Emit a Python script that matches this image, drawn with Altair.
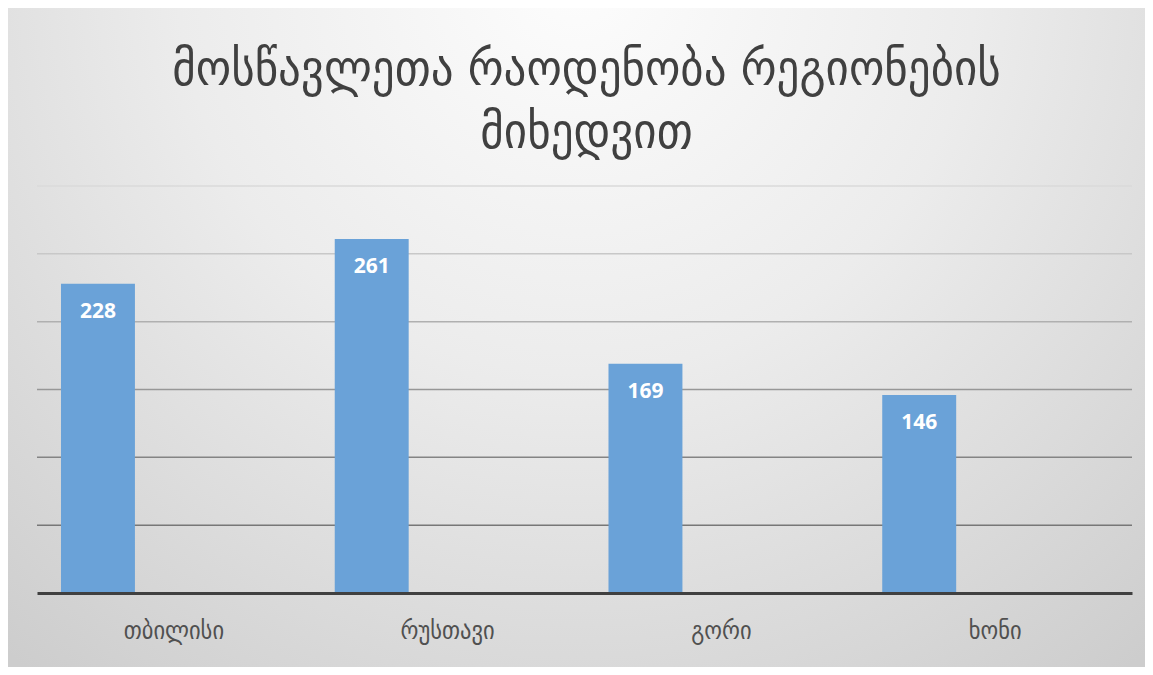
import altair as alt
import pandas as pd

# ---- data ----
regions = ["თბილისი", "რუსთავი", "გორი", "ხონი"]
students = [228, 261, 169, 146]
series_slots = ["მოსწავლეები", "_"]        # second (empty) cluster slot
grid_values = [50, 100, 150, 200, 250, 300]
grid_colors = ["#777777", "#848484", "#979797", "#b0b0b0", "#c8c8c8", "#dadada"]
title_lines = ["მოსწავლეთა რაოდენობა რეგიონების", "მიხედვით"]

W, H = 1095, 407
PAD = {"left": 29, "top": 178, "right": 13, "bottom": 74}

df = pd.DataFrame({"region": regions, "value": students,
                   "series": [series_slots[0]] * len(regions)})
grid_df = pd.DataFrame({"g": grid_values, "c": grid_colors})
title_df = pd.DataFrame({"t": [title_lines]})

x_enc = alt.X("region:N", sort=regions,
              scale=alt.Scale(paddingInner=0, paddingOuter=0),
              axis=alt.Axis(title=None, ticks=False, labelAngle=0,
                            labelFont="DejaVu Sans Condensed", labelFontSize=25,
                            labelColor="#505050", labelPadding=25,
                            domainColor="#404040", domainWidth=3, grid=False,
                            zindex=2))
xo_enc = alt.XOffset("series:N",
                     scale=alt.Scale(domain=series_slots, paddingInner=0.513,
                                     paddingOuter=0.158))
y_scale = alt.Scale(domain=[0, 300], nice=False)

bg = alt.Chart(pd.DataFrame({"a": [0]})).mark_rect(
    fill=alt.Gradient(gradient="radial",
                      stops=[alt.GradientStop(offset=0, color="#fdfdfd"),
                             alt.GradientStop(offset=0.45, color="#ececec"),
                             alt.GradientStop(offset=1, color="#cdcdcd")],
                      x1=0.5, y1=0.18, x2=0.5, y2=0.18, r1=0, r2=0.78)
).encode(x=alt.value(-PAD["left"]), x2=alt.value(W + PAD["right"]),
         y=alt.value(-PAD["top"]), y2=alt.value(H + PAD["bottom"]))

title = alt.Chart(title_df).mark_text(
    font="DejaVu Sans Condensed", fontSize=50, color="#404040",
    align="center", baseline="alphabetic", lineHeight=63
).encode(x=alt.value(W / 2 + 2), y=alt.value(-101), text="t")

grid = alt.Chart(grid_df).mark_rule(strokeWidth=1.5).encode(
    y=alt.Y("g:Q", scale=y_scale, axis=None),
    color=alt.Color("c:N", scale=None, legend=None),
)

bars = alt.Chart(df).mark_bar(color="#6aa2d8", opacity=1).encode(
    x=x_enc, xOffset=xo_enc,
    y=alt.Y("value:Q", scale=y_scale, axis=None),
)

labels = alt.Chart(df).mark_text(
    color="white", font="Open Sans", fontWeight="bold", fontSize=21,
    baseline="middle", dy=28
).encode(x=x_enc, xOffset=xo_enc,
         y=alt.Y("value:Q", scale=y_scale, axis=None),
         text="value:Q")

chart = alt.layer(bg, title, grid, bars, labels).properties(
    width=W, height=H,
    padding=PAD,
    autosize=alt.AutoSizeParams(type="none"),
).configure_view(stroke=None).configure(background="white")

chart.save("out.html", embed_options={"renderer": "svg", "actions": False})
